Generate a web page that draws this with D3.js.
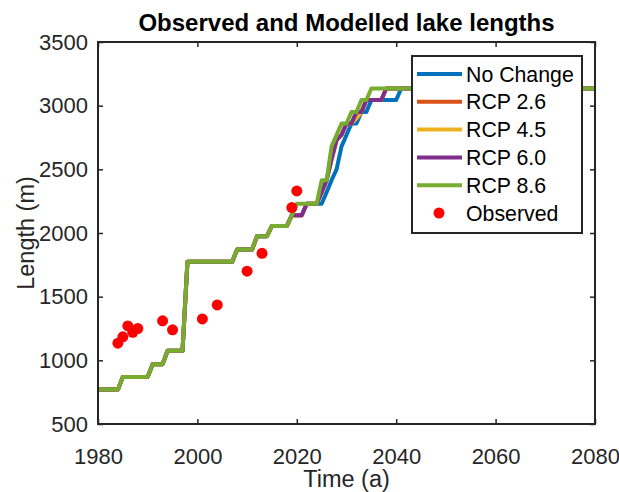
<!DOCTYPE html>
<meta charset="utf-8">
<style>
    body { margin: 0; background: #fff; }
    text { font-family: "Liberation Sans", Arial, sans-serif; fill: #262626; }
    .line { fill: none; stroke-width: 4px; stroke-linejoin: round; }
    .axis path { display: none; }
    .axis line { stroke: #262626; stroke-width: 1.5px; }
    .axis text { font-size: 22px; fill: #262626; }
</style>
<body>
<script src="https://d3js.org/d3.v7.min.js"></script>
<script>
    // values: [year, length in m] corner points of each stepped run
    var pastRun = [[1980, 770], [1984, 770], [1985, 870], [1990, 870], [1991, 970], [1993, 970],
        [1994, 1075], [1997, 1075], [1998, 1775], [2007, 1775], [2008, 1870], [2011, 1870],
        [2012, 1975], [2014, 1975], [2015, 2055], [2018, 2055]];

    var noChange = [[2019, 2140], [2021, 2140], [2022, 2230], [2025, 2230], [2026, 2320], [2027, 2415],
        [2028, 2500], [2029, 2680], [2030, 2770], [2031, 2860], [2032, 2860], [2033, 2950], [2034, 2950],
        [2035, 3045], [2040, 3045], [2041, 3135], [2080, 3135]];
    var rcp26 = [[2019, 2140], [2021, 2140], [2022, 2230], [2024, 2230], [2025, 2320], [2026, 2415],
        [2027, 2580], [2028, 2730], [2029, 2770], [2030, 2860], [2031, 2860], [2032, 2950], [2033, 2950],
        [2034, 3045], [2037, 3045], [2038, 3135], [2080, 3135]];
    var rcp45 = [[2019, 2140], [2021, 2140], [2022, 2230], [2024, 2230], [2025, 2320], [2026, 2415],
        [2027, 2580], [2028, 2730], [2029, 2770], [2030, 2860], [2031, 2860], [2032, 2900], [2033, 2950],
        [2034, 3045], [2037, 3045], [2038, 3135], [2080, 3135]];
    var rcp60 = [[2019, 2140], [2021, 2140], [2022, 2230], [2024, 2230], [2025, 2320], [2026, 2415],
        [2027, 2580], [2028, 2730], [2029, 2770], [2030, 2860], [2031, 2860], [2032, 2950], [2033, 2950],
        [2034, 3045], [2037, 3045], [2038, 3135], [2080, 3135]];
    var rcp86 = [[2019, 2140], [2020, 2230], [2024, 2230], [2025, 2415], [2026, 2415], [2027, 2680],
        [2028, 2770], [2029, 2860], [2030, 2860], [2031, 2950], [2032, 2950], [2033, 3045], [2034, 3045],
        [2035, 3135], [2080, 3135]];

    var obsYears = [1984, 1985, 1986, 1987, 1988, 1993, 1995, 2001, 2004, 2010, 2013, 2019, 2020];
    var obsLengths = [1135, 1185, 1270, 1220, 1250, 1310, 1240, 1325, 1435, 1700, 1840, 2200, 2330];

    var names = ["No Change", "RCP 2.6", "RCP 4.5", "RCP 6.0", "RCP 8.6"];
    var colors = ["#0072BD", "#D95319", "#EDB120", "#7E2F8E", "#77AC30"];
    var xTicks = [1980, 2000, 2020, 2040, 2060, 2080];
    var yTicks = [500, 1000, 1500, 2000, 2500, 3000, 3500];

    var width = 619,
        height = 492,
        margin = { top: 42, right: 24, bottom: 68, left: 98 },
        w = width - margin.left - margin.right,
        h = height - margin.top - margin.bottom;

    var svg = d3.select("body").append("svg")
        .attr("width", width)
        .attr("height", height);

    var g = svg.append("g").attr("transform", "translate(" + margin.left + "," + margin.top + ")");

    var x = d3.scaleLinear().domain([1980, 2080]).range([0, w]),
        y = d3.scaleLinear().domain([500, 3500]).range([h, 0]);

    svg.append("defs").append("clipPath").attr("id", "clip")
        .append("rect").attr("width", w).attr("height", h);

    var line = d3.line()
        .x(function(d) { return x(d[0]); })
        .y(function(d) { return y(d[1]); });

    var series = [noChange, rcp26, rcp45, rcp60, rcp86].map(function(s, i) {
        return { name: names[i], color: colors[i], values: pastRun.concat(s) };
    });

    var plot = g.append("g").attr("clip-path", "url(#clip)");
    plot.selectAll(".line")
        .data(series)
        .enter().append("path")
        .attr("class", "line")
        .attr("d", function(d) { return line(d.values); })
        .style("stroke", function(d) { return d.color; });

    plot.selectAll(".obs")
        .data(obsYears)
        .enter().append("circle")
        .attr("class", "obs")
        .attr("cx", function(d) { return x(d); })
        .attr("cy", function(d, i) { return y(obsLengths[i]); })
        .attr("r", 5.5)
        .attr("fill", "#ff0000");

    // axes, ticks pointing inward on all four sides
    g.append("g").attr("class", "axis")
        .attr("transform", "translate(0," + h + ")")
        .call(d3.axisBottom(x).tickValues(xTicks).tickSizeInner(-5).tickSizeOuter(0)
            .tickPadding(24).tickFormat(d3.format("d")));
    g.append("g").attr("class", "axis")
        .call(d3.axisLeft(y).tickValues(yTicks).tickSizeInner(-5).tickSizeOuter(0)
            .tickPadding(10).tickFormat(d3.format("d")));
    g.append("g").attr("class", "axis")
        .call(d3.axisTop(x).tickValues(xTicks).tickSizeInner(-5).tickSizeOuter(0).tickFormat(""));
    g.append("g").attr("class", "axis")
        .attr("transform", "translate(" + w + ",0)")
        .call(d3.axisRight(y).tickValues(yTicks).tickSizeInner(-5).tickSizeOuter(0).tickFormat(""));

    g.append("rect")
        .attr("width", w).attr("height", h)
        .attr("fill", "none").attr("stroke", "#262626").attr("stroke-width", 2);

    svg.append("text")
        .attr("x", margin.left + w / 2).attr("y", 31)
        .attr("text-anchor", "middle")
        .style("font-size", "24px").style("font-weight", "bold").style("fill", "#000")
        .text("Observed and Modelled lake lengths");

    svg.append("text")
        .attr("x", margin.left + w / 2).attr("y", 487)
        .attr("text-anchor", "middle")
        .style("font-size", "23.5px")
        .text("Time (a)");

    svg.append("text")
        .attr("transform", "translate(34," + (margin.top + h / 2) + ") rotate(-90)")
        .attr("text-anchor", "middle")
        .style("font-size", "23.5px")
        .text("Length (m)");

    // legend
    var legend = g.append("g").attr("transform", "translate(" + (412 - margin.left) + "," + (56 - margin.top) + ")");
    legend.append("rect")
        .attr("width", 170).attr("height", 177)
        .attr("fill", "#fff").attr("stroke", "#262626").attr("stroke-width", 2);

    var item = legend.selectAll(".item")
        .data(names.concat(["Observed"]))
        .enter().append("g")
        .attr("class", "item")
        .attr("transform", function(d, i) { return "translate(0," + (18 + i * 27.8) + ")"; });

    item.filter(function(d, i) { return i < 5; }).append("line")
        .attr("x1", 5).attr("x2", 50)
        .attr("stroke", function(d, i) { return colors[i]; })
        .attr("stroke-width", 4);

    item.filter(function(d, i) { return i === 5; }).append("circle")
        .attr("cx", 27).attr("r", 5.5).attr("fill", "#ff0000");

    item.append("text")
        .attr("x", 54).attr("dy", "0.36em")
        .style("font-size", "21.3px").style("fill", "#000")
        .text(function(d) { return d; });
</script>
</body>
